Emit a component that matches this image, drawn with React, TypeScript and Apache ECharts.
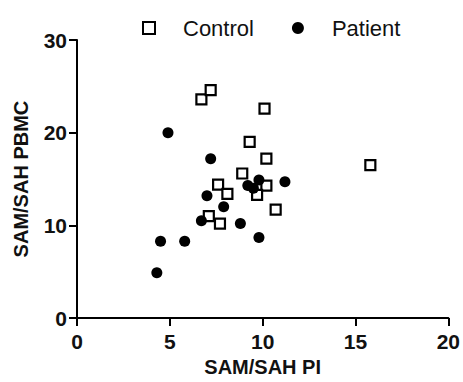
import React, { useEffect, useRef } from "react";
import * as echarts from "echarts";

const controlX = [6.7, 7.2, 10.1, 9.3, 10.2, 8.9, 7.6, 8.1, 10.2, 9.7, 10.7, 7.1, 7.7, 15.8];
const controlY = [23.6, 24.6, 22.6, 19.0, 17.2, 15.6, 14.4, 13.4, 14.3, 13.3, 11.7, 11.0, 10.2, 16.5];
const patientX = [4.9, 7.2, 9.8, 9.2, 9.5, 11.2, 7.0, 7.9, 6.7, 8.8, 9.8, 4.5, 5.8, 4.3];
const patientY = [20.0, 17.2, 14.9, 14.3, 14.0, 14.7, 13.2, 12.0, 10.5, 10.2, 8.7, 8.3, 8.3, 4.9];

const xTicks = { min: 0, max: 20, interval: 5 };
const yTicks = { min: 0, max: 30, interval: 10 };
const xName = "SAM/SAH PI";
const yName = "SAM/SAH PBMC";
const seriesNames = ["Control", "Patient"];

const FONT = "'Liberation Sans', Arial, sans-serif";

export default function App() {
  const ref = useRef<HTMLDivElement>(null);
  useEffect(() => {
    if (!ref.current) return;
    const chart = echarts.init(ref.current, null, { renderer: "svg" });
    const axisCommon = {
      type: "value" as const,
      splitLine: { show: false },
      axisLine: { show: true, lineStyle: { color: "#000", width: 2 } },
      axisTick: { show: true, length: 8, lineStyle: { color: "#000", width: 2 } },
      axisLabel: { color: "#111", fontSize: 21, fontWeight: "bold" as const, fontFamily: FONT },
      nameLocation: "middle" as const,
      nameTextStyle: { color: "#111", fontSize: 20, fontWeight: "bold" as const, fontFamily: FONT },
    };
    chart.setOption({
      animation: false,
      backgroundColor: "#fff",
      grid: { left: 77, right: 13, top: 40, bottom: 63 },
      legend: {
        left: 137,
        top: 12,
        itemWidth: 12,
        itemHeight: 12,
        itemGap: 38,
        textStyle: { color: "#111", fontSize: 22, fontFamily: FONT, padding: [0, 0, 0, 23] },
        data: [
          { name: seriesNames[0], icon: "rect", itemStyle: { color: "#fff", borderColor: "#000", borderWidth: 2 } },
          { name: seriesNames[1], icon: "circle", itemStyle: { color: "#000", borderWidth: 0 } },
        ],
      },
      xAxis: { ...axisCommon, ...xTicks, name: xName, nameGap: 34, axisLabel: { ...axisCommon.axisLabel, margin: 13 } },
      yAxis: { ...axisCommon, ...yTicks, name: yName, nameGap: 46, axisLabel: { ...axisCommon.axisLabel, margin: 10 } },
      series: [
        {
          name: seriesNames[0],
          type: "scatter",
          symbol: "rect",
          symbolSize: 10,
          itemStyle: { color: "#fff", borderColor: "#000", borderWidth: 2.2, opacity: 1 },
          data: controlX.map((x, i) => [x, controlY[i]]),
        },
        {
          name: seriesNames[1],
          type: "scatter",
          symbol: "circle",
          symbolSize: 11,
          itemStyle: { color: "#000", opacity: 1 },
          data: patientX.map((x, i) => [x, patientY[i]]),
        },
      ],
    });
    return () => chart.dispose();
  }, []);
  return (
    <div
      ref={ref}
      style={{ position: "fixed", left: 0, top: 0, width: 463, height: 382 }}
    />
  );
}
